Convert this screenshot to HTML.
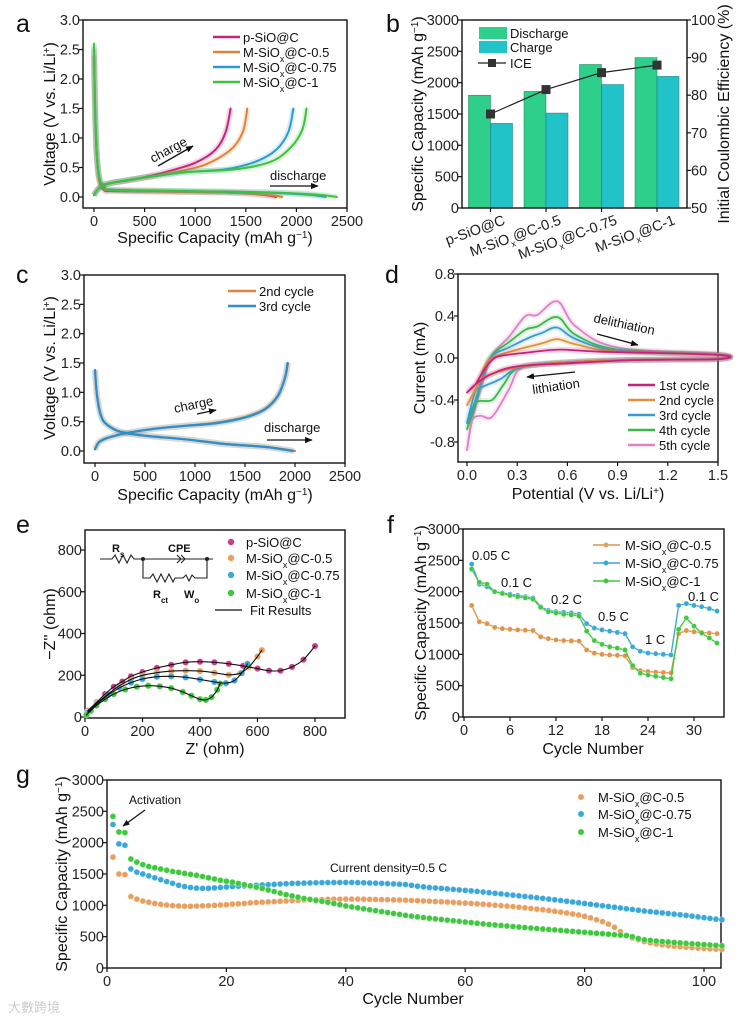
<!DOCTYPE html>
<html><head><meta charset="utf-8"><style>
html,body{margin:0;padding:0;background:#fff}
svg{display:block;font-family:"Liberation Sans",sans-serif}
.tk{font-size:14.5px;fill:#222}
.ttl{font-size:16px;fill:#111}
.lg{font-size:13px;fill:#111}
.pl{font-size:25px;fill:#111}
</style></head><body>
<svg id="fig" width="750" height="1018" viewBox="0 0 750 1018" xmlns="http://www.w3.org/2000/svg">
<defs><marker id="arr" viewBox="0 0 10 10" refX="9" refY="5" markerWidth="6" markerHeight="6" orient="auto"><path d="M0,1 L10,5 L0,9 z" fill="#111"/></marker></defs>
<text class="pl" x="16" y="32">a</text>
<text class="pl" x="386" y="32">b</text>
<text class="pl" x="16" y="283">c</text>
<text class="pl" x="385" y="283">d</text>
<text class="pl" x="16" y="533">e</text>
<text class="pl" x="387" y="533">f</text>
<text class="pl" x="16" y="783">g</text>

<text class="ttl" text-anchor="middle" transform="translate(55,114) rotate(-90)">Voltage (V vs. Li/Li<tspan baseline-shift="super" font-size="10">+</tspan>)</text>
<text class="ttl" text-anchor="middle" x="215" y="243">Specific Capacity (mAh g<tspan baseline-shift="super" font-size="10">−1</tspan>)</text>
<text class="ttl" text-anchor="middle" transform="translate(423,114) rotate(-90)">Specific Capacity (mAh g<tspan baseline-shift="super" font-size="10">−1</tspan>)</text>
<text class="ttl" text-anchor="middle" transform="translate(729,114) rotate(-90)">Initial Coulombic Efficiency (%)</text>
<text class="ttl" text-anchor="middle" transform="translate(55,368) rotate(-90)">Voltage (V vs. Li/Li<tspan baseline-shift="super" font-size="10">+</tspan>)</text>
<text class="ttl" text-anchor="middle" x="215" y="500">Specific Capacity (mAh g<tspan baseline-shift="super" font-size="10">−1</tspan>)</text>
<text class="ttl" text-anchor="middle" transform="translate(425,368) rotate(-90)">Current (mA)</text>
<text class="ttl" text-anchor="middle" x="588" y="499">Potential (V vs. Li/Li<tspan baseline-shift="super" font-size="10">+</tspan>)</text>
<text class="ttl" text-anchor="middle" transform="translate(55,624) rotate(-90)">−Z'' (ohm)</text>
<text class="ttl" text-anchor="middle" x="215" y="754">Z' (ohm)</text>
<text class="ttl" text-anchor="middle" transform="translate(426,623) rotate(-90)">Specific Capacity (mAh g<tspan baseline-shift="super" font-size="10">−1</tspan>)</text>
<text class="ttl" text-anchor="middle" x="593" y="754">Cycle Number</text>
<text class="ttl" text-anchor="middle" transform="translate(67,874) rotate(-90)">Specific Capacity (mAh g<tspan baseline-shift="super" font-size="10">−1</tspan>)</text>
<text class="ttl" text-anchor="middle" x="413" y="1004">Cycle Number</text>

<g class="tk" font-size="13">
<text text-anchor="end" transform="translate(506,224) rotate(-20)">p-SiO@C</text>
<text text-anchor="end" transform="translate(562,224) rotate(-20)">M-SiO<tspan baseline-shift="sub" font-size="9">x</tspan>@C-0.5</text>
<text text-anchor="end" transform="translate(618,224) rotate(-20)">M-SiO<tspan baseline-shift="sub" font-size="9">x</tspan>@C-0.75</text>
<text text-anchor="end" transform="translate(676,224) rotate(-20)">M-SiO<tspan baseline-shift="sub" font-size="9">x</tspan>@C-1</text>
</g>

<g class="lg">
<line x1="213" y1="37" x2="240" y2="37" stroke="#c8237a" stroke-width="2.5"/><text x="243" y="42">p-SiO@C</text>
<line x1="213" y1="52" x2="240" y2="52" stroke="#e0823a" stroke-width="2.5"/><text x="243" y="57">M-SiO<tspan baseline-shift="sub" font-size="9">x</tspan>@C-0.5</text>
<line x1="213" y1="67" x2="240" y2="67" stroke="#2e9bd0" stroke-width="2.5"/><text x="243" y="72">M-SiO<tspan baseline-shift="sub" font-size="9">x</tspan>@C-0.75</text>
<line x1="213" y1="82" x2="240" y2="82" stroke="#3cc23c" stroke-width="2.5"/><text x="243" y="87">M-SiO<tspan baseline-shift="sub" font-size="9">x</tspan>@C-1</text>
</g>
<g class="lg">
<rect x="479" y="27" width="28" height="12" fill="#2ecf8a"/><text x="510" y="38">Discharge</text>
<rect x="479" y="41" width="28" height="12" fill="#22c3c8"/><text x="510" y="52">Charge</text>
<line x1="478" y1="63" x2="506" y2="63" stroke="#222" stroke-width="1.2"/><rect x="488" y="59" width="8" height="8" fill="#333"/><text x="510" y="68">ICE</text>
</g>
<g class="lg">
<line x1="228" y1="291" x2="256" y2="291" stroke="#e0823a" stroke-width="2.5"/><text x="259" y="296">2nd cycle</text>
<line x1="228" y1="306" x2="256" y2="306" stroke="#2e8fc8" stroke-width="2.5"/><text x="259" y="311">3rd cycle</text>
</g>
<g class="lg">
<line x1="628" y1="385" x2="655" y2="385" stroke="#c8237a" stroke-width="2.5"/><text x="659" y="390">1st cycle</text>
<line x1="628" y1="400" x2="655" y2="400" stroke="#e0913a" stroke-width="2.5"/><text x="659" y="405">2nd cycle</text>
<line x1="628" y1="415" x2="655" y2="415" stroke="#3a9bd0" stroke-width="2.5"/><text x="659" y="420">3rd cycle</text>
<line x1="628" y1="430" x2="655" y2="430" stroke="#3cb84a" stroke-width="2.5"/><text x="659" y="435">4th cycle</text>
<line x1="628" y1="445" x2="655" y2="445" stroke="#e080c8" stroke-width="2.5"/><text x="659" y="450">5th cycle</text>
</g>
<g class="lg">
<circle cx="231" cy="542" r="3.2" fill="#d03a8a"/><text x="246" y="547">p-SiO@C</text>
<circle cx="231" cy="558" r="3.2" fill="#e8a060"/><text x="246" y="563">M-SiO<tspan baseline-shift="sub" font-size="9">x</tspan>@C-0.5</text>
<circle cx="231" cy="575" r="3.2" fill="#3aa8d8"/><text x="246" y="580">M-SiO<tspan baseline-shift="sub" font-size="9">x</tspan>@C-0.75</text>
<circle cx="231" cy="593" r="3.2" fill="#40c840"/><text x="246" y="598">M-SiO<tspan baseline-shift="sub" font-size="9">x</tspan>@C-1</text>
<line x1="215" y1="610" x2="242" y2="610" stroke="#111" stroke-width="1.3"/><text x="250" y="615">Fit Results</text>
</g>
<g fill="none" stroke="#222" stroke-width="1.1">
<polyline points="100,559 112,559 115,555 119,563 123,555 127,563 131,555 134,559 213,559"/>
<path d="M177,555 L181,559 L177,563 M181,555 L185,559 L181,563"/>
<polyline points="143,559 143,578 150,578 153,574 157,582 161,574 165,582 169,574 173,582 175,578 183,578 186,575 189,581 192,575 195,578 207,578 207,559"/>
<circle cx="143" cy="559" r="1.5" fill="#222"/><circle cx="207" cy="559" r="1.5" fill="#222"/>
<text x="112" y="552" font-size="11" font-weight="bold" fill="#111" stroke="none">R<tspan baseline-shift="sub" font-size="8">s</tspan></text>
<text x="168" y="552" font-size="11" font-weight="bold" fill="#111" stroke="none">CPE</text>
<text x="153" y="598" font-size="11" font-weight="bold" fill="#111" stroke="none">R<tspan baseline-shift="sub" font-size="8">ct</tspan></text>
<text x="184" y="598" font-size="11" font-weight="bold" fill="#111" stroke="none">W<tspan baseline-shift="sub" font-size="8">o</tspan></text>
</g>
<g class="lg">
<line x1="593" y1="545" x2="620" y2="545" stroke="#e0944a" stroke-width="1.5"/><circle cx="606" cy="545" r="2.5" fill="#e8a060"/><text x="625" y="550">M-SiO<tspan baseline-shift="sub" font-size="9">x</tspan>@C-0.5</text>
<line x1="593" y1="563" x2="620" y2="563" stroke="#3aa8d8" stroke-width="1.5"/><circle cx="606" cy="563" r="2.5" fill="#3aa8d8"/><text x="625" y="568">M-SiO<tspan baseline-shift="sub" font-size="9">x</tspan>@C-0.75</text>
<line x1="593" y1="581" x2="620" y2="581" stroke="#40c840" stroke-width="1.5"/><circle cx="606" cy="581" r="2.5" fill="#40c840"/><text x="625" y="586">M-SiO<tspan baseline-shift="sub" font-size="9">x</tspan>@C-1</text>
</g>
<g class="lg" font-size="12.5">
<circle cx="581" cy="797" r="3" fill="#e8a060"/><text x="598" y="802">M-SiO<tspan baseline-shift="sub" font-size="9">x</tspan>@C-0.5</text>
<circle cx="581" cy="814" r="3" fill="#3aa8d8"/><text x="598" y="819">M-SiO<tspan baseline-shift="sub" font-size="9">x</tspan>@C-0.75</text>
<circle cx="581" cy="832" r="3" fill="#40c840"/><text x="598" y="837">M-SiO<tspan baseline-shift="sub" font-size="9">x</tspan>@C-1</text>
</g>

<g class="lg">
<text transform="translate(153,163) rotate(-28)">charge</text>
<line x1="158" y1="166" x2="193" y2="146" stroke="#111" stroke-width="1.3" marker-end="url(#arr)"/>
<text x="270" y="180">discharge</text>
<line x1="270" y1="186" x2="318" y2="186" stroke="#111" stroke-width="1.3" marker-end="url(#arr)"/>
<text transform="translate(175,413) rotate(-12)">charge</text>
<line x1="197" y1="414" x2="216" y2="410" stroke="#111" stroke-width="1.3" marker-end="url(#arr)"/>
<text x="264" y="432">discharge</text>
<line x1="267" y1="440" x2="312" y2="440" stroke="#111" stroke-width="1.3" marker-end="url(#arr)"/>
<text transform="translate(593,322) rotate(12)">delithiation</text>
<line x1="597" y1="334" x2="638" y2="345" stroke="#111" stroke-width="1.3" marker-end="url(#arr)"/>
<text transform="translate(533,394) rotate(-8)">lithiation</text>
<line x1="575" y1="372" x2="527" y2="377" stroke="#111" stroke-width="1.3" marker-end="url(#arr)"/>
<text x="472" y="560">0.05 C</text>
<text x="501" y="587">0.1 C</text>
<text x="551" y="604">0.2 C</text>
<text x="598" y="621">0.5 C</text>
<text x="645" y="644">1 C</text>
<text x="688" y="601">0.1 C</text>
<text x="129" y="804" font-size="12">Activation</text>
<line x1="145" y1="810" x2="123" y2="826" stroke="#111" stroke-width="1.2" marker-end="url(#arr)"/>
<text x="330" y="872" font-size="12">Current density=0.5 C</text>
</g>
<text x="8" y="1012" font-size="13" fill="#ccc" font-family="'Liberation Sans','Noto Sans CJK SC',sans-serif">大數跨境</text>
</svg>
<script>
const aChargeP=[[0,0.03],[50,0.15],[150,0.23],[400,0.3],[700,0.42],[1000,0.58],[1200,0.8],[1300,1.1],[1350,1.5]];
const aCharge05=[[0,0.03],[50,0.15],[150,0.23],[500,0.33],[800,0.42],[1100,0.55],[1350,0.8],[1470,1.1],[1515,1.5]];
const aCharge075=[[0,0.03],[50,0.15],[150,0.23],[500,0.33],[900,0.42],[1300,0.47],[1600,0.6],[1800,0.8],[1920,1.1],[1970,1.5]];
const aCharge1=[[0,0.03],[50,0.15],[150,0.23],[500,0.33],[900,0.42],[1400,0.47],[1750,0.6],[1950,0.85],[2060,1.15],[2100,1.5]];
const aDisP=[[0,2.4],[10,1.5],[25,0.8],[50,0.3],[100,0.12],[200,0.1],[800,0.09],[1400,0.07],[1700,0.03],[1800,0]];
const aDis05=[[0,2.5],[10,1.55],[25,0.8],[50,0.32],[100,0.14],[200,0.11],[800,0.09],[1400,0.07],[1750,0.03],[1860,0]];
const aDis075=[[0,2.55],[10,1.6],[25,0.8],[50,0.35],[100,0.17],[200,0.12],[900,0.1],[1600,0.08],[2100,0.04],[2290,0]];
const aDis1=[[0,2.6],[10,1.6],[25,0.8],[50,0.35],[100,0.17],[200,0.12],[900,0.1],[1700,0.08],[2200,0.04],[2400,0]];
const bCats=["p-SiO@C","M-SiOx@C-0.5","M-SiOx@C-0.75","M-SiOx@C-1"];
const bDischarge=[1800,1860,2290,2400];
const bCharge=[1350,1515,1970,2100];
const bICE=[75,81.5,86,88];
const cDis2=[[0,1.38],[20,0.95],[60,0.6],[120,0.45],[250,0.33],[500,0.26],[900,0.2],[1300,0.12],[1700,0.07],[2000,0]];
const cCha2=[[0,0.03],[40,0.15],[120,0.22],[300,0.3],[600,0.38],[900,0.43],[1200,0.48],[1500,0.58],[1700,0.72],[1830,0.95],[1900,1.25],[1930,1.5]];
const cDis3=[[0,1.38],[20,0.95],[60,0.6],[120,0.45],[250,0.33],[500,0.26],[900,0.2],[1300,0.12],[1700,0.07],[1980,0]];
const cCha3=[[0,0.03],[40,0.15],[120,0.22],[300,0.3],[600,0.38],[900,0.43],[1200,0.47],[1500,0.57],[1700,0.71],[1830,0.94],[1900,1.25],[1925,1.5]];
const dC1=[[0,-0.33],[0.05,-0.25],[0.1,-0.12],[0.15,-0.02],[0.2,0.02],[0.35,0.05],[0.55,0.08],[0.8,0.06],[1.5,0.03],[1.5,-0.01],[1.0,-0.02],[0.6,-0.05],[0.3,-0.08],[0.15,-0.15],[0.05,-0.25],[0,-0.33]];
const dC2=[[0,-0.45],[0.05,-0.3],[0.1,-0.1],[0.15,0.0],[0.3,0.08],[0.45,0.14],[0.54,0.18],[0.65,0.13],[0.9,0.06],[1.5,0.03],[1.5,-0.01],[0.9,-0.02],[0.5,-0.05],[0.3,-0.09],[0.15,-0.15],[0.08,-0.22],[0,-0.45]];
const dC3=[[0,-0.62],[0.05,-0.4],[0.1,-0.15],[0.15,0.02],[0.25,0.1],[0.38,0.2],[0.45,0.24],[0.54,0.29],[0.65,0.18],[0.9,0.07],[1.5,0.03],[1.5,-0.01],[0.9,-0.02],[0.5,-0.05],[0.3,-0.1],[0.2,-0.2],[0.1,-0.27],[0.05,-0.32],[0,-0.62]];
const dC4=[[0,-0.68],[0.05,-0.45],[0.1,-0.15],[0.15,0.03],[0.25,0.15],[0.35,0.27],[0.42,0.3],[0.54,0.39],[0.65,0.22],[0.9,0.08],[1.5,0.03],[1.5,-0.01],[0.9,-0.02],[0.5,-0.05],[0.3,-0.1],[0.22,-0.25],[0.15,-0.4],[0.05,-0.43],[0,-0.68]];
const dC5=[[0,-0.88],[0.03,-0.6],[0.1,-0.2],[0.15,0.03],[0.25,0.2],[0.35,0.4],[0.42,0.41],[0.54,0.54],[0.65,0.3],[0.9,0.1],[1.5,0.04],[1.5,0],[0.9,-0.02],[0.5,-0.05],[0.32,-0.1],[0.25,-0.3],[0.15,-0.56],[0.08,-0.55],[0.03,-0.6],[0,-0.88]];
const eP=[[10,30],[40,70],[70,110],[100,145],[130,170],[160,195],[200,215],[250,235],[300,250],[350,262],[400,265],[450,262],[500,255],[550,245],[600,232],[640,222],[680,222],[720,240],[760,275],[800,340]];
const e05=[[10,25],[40,65],[80,110],[120,150],[160,180],[200,200],[250,212],[300,220],[350,222],[400,220],[450,212],[500,202],[540,210],[570,240],[600,290],[615,320]];
const e075=[[10,22],[40,60],[80,105],[120,140],[160,165],[200,182],[250,193],[300,195],[350,190],[400,180],[450,168],[490,162],[520,175],[545,210],[565,255]];
const e1=[[5,10],[20,30],[40,55],[70,85],[100,110],[140,132],[180,145],[220,150],[260,147],[300,138],[340,120],[370,102],[400,85],[420,82],[440,95],[460,130],[470,160]];
const f05=[1780,1520,1490,1430,1410,1400,1390,1385,1380,1280,1250,1230,1220,1215,1210,1070,1020,1000,990,985,975,790,740,725,715,710,705,1330,1380,1360,1350,1340,1330];
const f075=[2440,2120,2080,2000,1980,1960,1940,1920,1900,1760,1700,1680,1670,1660,1640,1490,1420,1390,1370,1350,1330,1120,1050,1020,1010,1000,990,1780,1810,1780,1760,1730,1690];
const f1=[2360,2150,2120,2000,1970,1940,1920,1900,1880,1750,1680,1660,1640,1630,1610,1370,1220,1160,1120,1100,1070,820,700,670,650,630,610,1400,1580,1450,1340,1260,1180];
const g05=[1770,1500,1490,1140,1100,1070,1050,1030,1015,1005,995,990,985,985,988,992,995,1000,1005,1010,1020,1025,1030,1040,1045,1050,1055,1060,1065,1070,1075,1080,1085,1088,1090,1092,1095,1097,1098,1100,1100,1100,1098,1096,1094,1092,1090,1088,1085,1082,1078,1074,1070,1066,1062,1058,1054,1048,1042,1036,1030,1024,1018,1010,1002,995,988,980,970,960,950,940,930,918,905,892,878,862,845,825,800,770,740,700,650,580,520,480,450,420,400,385,370,358,348,340,332,325,318,312,306,300,295];
const g075=[2290,1980,1960,1580,1530,1500,1470,1440,1410,1380,1350,1320,1300,1285,1275,1270,1272,1278,1285,1292,1300,1305,1310,1315,1320,1325,1330,1335,1340,1345,1350,1352,1355,1358,1360,1362,1363,1364,1365,1365,1364,1362,1360,1357,1354,1350,1346,1342,1337,1332,1320,1305,1295,1285,1278,1270,1262,1254,1246,1238,1230,1222,1212,1202,1192,1182,1172,1162,1152,1142,1132,1122,1112,1100,1090,1078,1066,1054,1042,1030,1018,1006,994,982,970,958,946,934,922,910,900,890,880,870,860,850,840,828,816,804,792,780,770];
const g1=[2420,2170,2160,1740,1690,1650,1620,1600,1580,1560,1540,1525,1510,1495,1480,1460,1440,1420,1400,1385,1370,1350,1330,1310,1290,1270,1245,1220,1195,1170,1150,1130,1110,1095,1080,1065,1050,1030,1010,990,975,960,945,930,915,900,885,870,855,840,828,816,805,794,784,774,764,754,744,734,724,714,704,695,686,678,670,662,654,646,638,630,622,615,608,600,592,585,578,570,562,555,548,540,532,525,518,500,470,450,440,430,422,415,408,400,393,386,380,374,368,362,355];
const aXTicks=[0,500,1000,1500,2000,2500];
const aYTicks=[0,0.5,1.0,1.5,2.0,2.5,3.0];
const aYLabels=["0.0","0.5","1.0","1.5","2.0","2.5","3.0"];
const bYTicks=[0,500,1000,1500,2000,2500,3000];
const bRTicks=[50,60,70,80,90,100];
const dXTicks=[0,0.3,0.6,0.9,1.2,1.5];
const dXLabels=["0.0","0.3","0.6","0.9","1.2","1.5"];
const dYTicks=[-0.8,-0.4,0,0.4,0.8];
const dYLabels=["-0.8","-0.4","0.0","0.4","0.8"];
const eTicks=[0,200,400,600,800];
const fXTicks=[0,6,12,18,24,30];
const gXTicks=[0,20,40,60,80,100];

const NS='http://www.w3.org/2000/svg';
const svg=document.getElementById('fig');
function mk(tag,attrs){const e=document.createElementNS(NS,tag);for(const k in attrs)e.setAttribute(k,attrs[k]);svg.appendChild(e);return e;}
function lin(d0,d1,r0,r1){return v=>r0+(v-d0)*(r1-r0)/(d1-d0);}
function smooth(p){let d='M'+p[0][0]+','+p[0][1];for(let i=0;i<p.length-1;i++){const p0=p[i-1]||p[i],p1=p[i],p2=p[i+1],p3=p[i+2]||p2;const c1=[p1[0]+(p2[0]-p0[0])/6,p1[1]+(p2[1]-p0[1])/6],c2=[p2[0]-(p3[0]-p1[0])/6,p2[1]-(p3[1]-p1[1])/6];d+=' C'+c1[0].toFixed(1)+','+c1[1].toFixed(1)+' '+c2[0].toFixed(1)+','+c2[1].toFixed(1)+' '+p2[0].toFixed(1)+','+p2[1].toFixed(1);}return d;}

function axes(nm,b,xs,ys,xt,xl,yt,yl){
  const r=mk('rect',{x:b[0],y:b[2],width:b[1]-b[0],height:b[3]-b[2],fill:'none',stroke:'#111','stroke-width':1.4});
  
  
  xt.forEach((v,i)=>{const x=xs(v);
    const t=mk('line',{x1:x,x2:x,y1:b[3],y2:b[3]+4,stroke:'#111','stroke-width':1.2});
    
    
    const s=mk('text',{x:x,y:b[3]+18,'text-anchor':'middle',class:'tk'});s.textContent=xl?xl[i]:String(v);
    
    });
  yt.forEach((v,i)=>{const y=ys(v);
    const t=mk('line',{x1:b[0]-4,x2:b[0],y1:y,y2:y,stroke:'#111','stroke-width':1.2});
    
    
    const s=mk('text',{x:b[0]-3,y:y+5,'text-anchor':'end',class:'tk'});s.textContent=yl?yl[i]:String(v);
    
    });
}
function curve(nm,pts,xs,ys,col,w,glow){
  const p=pts.map(q=>[xs(q[0]),ys(q[1])]);
  if(glow){const g=mk('path',{d:smooth(p),fill:'none',stroke:col,'stroke-width':w+4,'stroke-opacity':0.18,'stroke-linejoin':'round'});
    
    }
  const e=mk('path',{d:smooth(p),fill:'none',stroke:col,'stroke-width':w,'stroke-linejoin':'round','stroke-linecap':'round'});
  
  
  return e;
}
function dots(nm,pts,xs,ys,col,r){
  pts.forEach(q=>{const c=mk('circle',{cx:xs(q[0]),cy:ys(q[1]),r:r,fill:col,stroke:'rgba(255,255,255,0.5)','stroke-width':0.6});
    
    });
}

{const b=[83,347,20,208],xs=lin(0,2500,94,347),ys=lin(0,3,197,20);
 axes('a',b,xs,ys,aXTicks,null,aYTicks,aYLabels);
 curve('a-discharge-p-sio',aDisP,xs,ys,'#c8237a',2,true);
 curve('a-discharge-0.5',aDis05,xs,ys,'#e0823a',2,true);
 curve('a-discharge-0.75',aDis075,xs,ys,'#2e9bd0',2,true);
 curve('a-discharge-1',aDis1,xs,ys,'#3cc23c',2,true);
 curve('a-charge-p-sio',aChargeP,xs,ys,'#c8237a',2,true);
 curve('a-charge-0.5',aCharge05,xs,ys,'#e0823a',2,true);
 curve('a-charge-0.75',aCharge075,xs,ys,'#2e9bd0',2,true);
 curve('a-charge-1',aCharge1,xs,ys,'#3cc23c',2,true);}

{const b=[462,687,20,208],ys=lin(0,3000,208,20),yr=lin(50,100,208,20);
 const gx=i=>490.5+i*55.5;
 bCats.forEach((c,i)=>{
  const d=mk('rect',{x:gx(i)-22,y:ys(bDischarge[i]),width:22,height:208-ys(bDischarge[i]),fill:'#2ecf8a',stroke:'#1a7a55','stroke-width':0.5});
  
  
  const ch=mk('rect',{x:gx(i),y:ys(bCharge[i]),width:22,height:208-ys(bCharge[i]),fill:'#22c3c8',stroke:'#137a7e','stroke-width':0.5});
  
  });
 const pl=mk('polyline',{points:bICE.map((v,i)=>gx(i)+','+yr(v)).join(' '),fill:'none',stroke:'#222','stroke-width':1.2});
 
 
 bICE.forEach((v,i)=>{const s=mk('rect',{x:gx(i)-4.5,y:yr(v)-4.5,width:9,height:9,fill:'#333'});
  
  });
 axes('b',b,v=>v,ys,[],null,bYTicks,null);
 bCats.forEach((c,i)=>{const t=mk('line',{x1:gx(i),x2:gx(i),y1:208,y2:212,stroke:'#111','stroke-width':1.2});
  
  });
 bRTicks.forEach(v=>{const y=yr(v);
  const t=mk('line',{x1:687,x2:691,y1:y,y2:y,stroke:'#111','stroke-width':1.2});
  
  
  const s=mk('text',{x:691,y:y+5,class:'tk'});s.textContent=String(v);
  
  });}

{const b=[84,345,275,463],xs=lin(0,2500,95,345),ys=lin(0,3,451,275);
 axes('c',b,xs,ys,aXTicks,null,aYTicks,aYLabels);
 curve('c-discharge-2nd',cDis2,xs,ys,'#e0823a',2.2,true);
 curve('c-charge-2nd',cCha2,xs,ys,'#e0823a',2.2,true);
 curve('c-discharge-3rd',cDis3,xs,ys,'#2e8fc8',2.2,true);
 curve('c-charge-3rd',cCha3,xs,ys,'#2e8fc8',2.2,true);}

{const b=[458,718,274,462],xs=lin(0,1.5,467,718),ys=lin(-0.8,0.8,442,274);
 axes('d',b,xs,ys,dXTicks,dXLabels,dYTicks,dYLabels);
 curve('cv-5th-cycle',dC5,xs,ys,'#e080c8',1.8,true);
 curve('cv-4th-cycle',dC4,xs,ys,'#3cb84a',1.8,true);
 curve('cv-3rd-cycle',dC3,xs,ys,'#3a9bd0',1.8,true);
 curve('cv-2nd-cycle',dC2,xs,ys,'#e0913a',1.8,true);
 curve('cv-1st-cycle',dC1,xs,ys,'#c8237a',1.8,true);}

{const b=[85,345,530,718],xs=lin(0,800,85,315),ys=lin(0,800,717,550);
 axes('e',b,xs,ys,eTicks,null,eTicks,null);
 dots('eis-p-sio',eP,xs,ys,'#d03a8a',3.2);
 dots('eis-0.5',e05,xs,ys,'#e8a060',3.2);
 dots('eis-0.75',e075,xs,ys,'#3aa8d8',3.2);
 dots('eis-1',e1,xs,ys,'#40c840',3.2);
 curve('fit-p-sio',eP,xs,ys,'#111',1.1,false);
 curve('fit-0.5',e05,xs,ys,'#111',1.1,false);
 curve('fit-0.75',e075,xs,ys,'#111',1.1,false);
 curve('fit-1',e1,xs,ys,'#111',1.1,false);}

{const b=[463,724,529,717],xs=lin(0,30,464,694),ys=lin(0,3000,717,529);
 axes('f',b,xs,ys,fXTicks,null,bYTicks,null);
 [[f05,'#e0944a','rate-0.5'],[f075,'#3aa8d8','rate-0.75'],[f1,'#40c840','rate-1']].forEach(s=>{
  const pts=s[0].map((v,i)=>[i+1,v]);
  const pl=mk('polyline',{points:pts.map(q=>xs(q[0])+','+ys(q[1])).join(' '),fill:'none',stroke:s[1],'stroke-width':1.4});
  
  
  dots(s[2]+'-point',pts,xs,ys,s[1],2.6);});}

{const b=[107,721,780,968],xs=lin(0,100,107,704),ys=lin(0,3000,968,780);
 axes('g',b,xs,ys,gXTicks,null,bYTicks,null);
 dots('cycle-0.5',g05.map((v,i)=>[i+1,v]),xs,ys,'#e8a060',3);
 dots('cycle-0.75',g075.map((v,i)=>[i+1,v]),xs,ys,'#3aa8d8',3);
 dots('cycle-1',g1.map((v,i)=>[i+1,v]),xs,ys,'#40c840',3);}
</script>
</body></html>
